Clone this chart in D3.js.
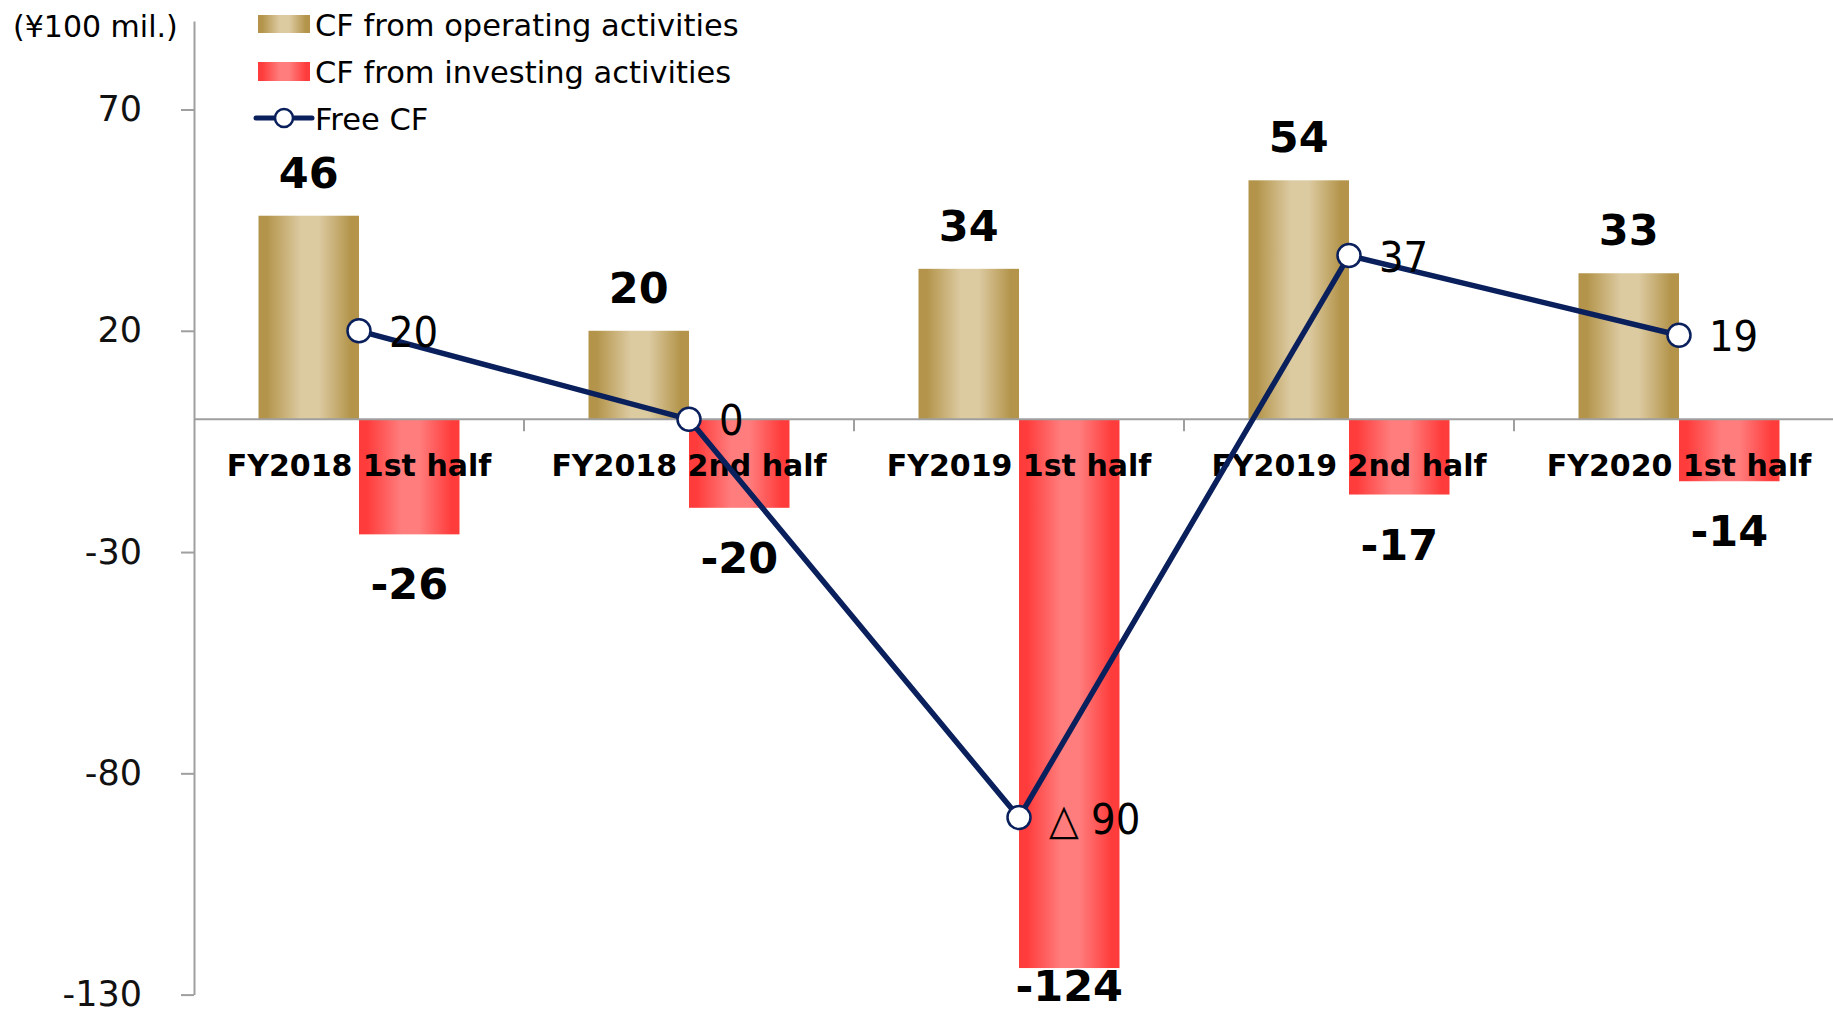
<!DOCTYPE html>
<html>
<head>
<meta charset="utf-8">
<script src="https://cdn.jsdelivr.net/npm/d3@7"></script>
<style>
  html, body { margin: 0; padding: 0; background: #fff; }
  svg { display: block; font-family: "DejaVu Sans", Verdana, sans-serif; }
</style>
</head>
<body>
<div id="chart"></div>
<script>
// --- data (¥100 mil.) ---
const categories = ["FY2018 1st half", "FY2018 2nd half", "FY2019 1st half", "FY2019 2nd half", "FY2020 1st half"];
const operatingCF = [46, 20, 34, 54, 33];
const investingCF = [-26, -20, -124, -17, -14];
const freeCF = [20, 0, -90, 37, 19];
const yTicks = [70, 20, -30, -80, -130];
const seriesNames = ["CF from operating activities", "CF from investing activities", "Free CF"];
const unitLabel = "(¥100 mil.)";

const W = 1833, H = 1009;
const axisX = 194, catW = 330;
const navy = "#0a205c", axisGray = "#9f9f9f";

const svg = d3.select("#chart").append("svg")
    .attr("width", W).attr("height", H);

// gradients for the bars
const defs = svg.append("defs");
function hGrad(id, dark, light) {
    const g = defs.append("linearGradient").attr("id", id)
        .attr("x1", "0%").attr("x2", "100%").attr("y1", "0%").attr("y2", "0%");
    [[0, dark], [0.08, dark], [0.42, light], [0.6, light], [0.92, dark], [1, dark]]
        .forEach(([o, c]) => g.append("stop").attr("offset", o).attr("stop-color", c));
}
hGrad("gOp", "#b3944a", "#dccaa1");
hGrad("gInv", "#ff3c3c", "#ff7d7d");

const y = d3.scaleLinear().domain([-130, 90]).range([994.6, 21]);
const x0 = d3.scaleBand().domain(categories).range([axisX, axisX + catW * categories.length]);
const x1 = d3.scaleBand().domain(["op", "inv"]).range([64.5, 265.5]);
const mid = c => x0(c) + x0.bandwidth() / 2;

// bars
const rows = categories.map((c, i) => ({ c, op: operatingCF[i], inv: investingCF[i], free: freeCF[i] }));

svg.append("g").selectAll("rect.op").data(rows).join("rect")
    .attr("x", d => x0(d.c) + x1("op")).attr("width", x1.bandwidth())
    .attr("y", d => y(Math.max(0, d.op))).attr("height", d => Math.abs(y(d.op) - y(0)))
    .attr("fill", "url(#gOp)");
svg.append("g").selectAll("rect.inv").data(rows).join("rect")
    .attr("x", d => x0(d.c) + x1("inv")).attr("width", x1.bandwidth())
    .attr("y", d => y(Math.max(0, d.inv))).attr("height", d => Math.abs(y(d.inv) - y(0)))
    .attr("fill", "url(#gInv)");

// y axis
const yAxis = svg.append("g").attr("transform", `translate(${axisX},0)`)
    .call(d3.axisLeft(y).tickValues(yTicks).tickFormat(d => String(d))
        .tickSize(13).tickSizeOuter(0).tickPadding(39));
yAxis.select(".domain").attr("stroke", axisGray).attr("stroke-width", 2);
yAxis.selectAll(".tick line").attr("stroke", axisGray).attr("stroke-width", 2);
yAxis.selectAll(".tick text").attr("font-size", 35).attr("fill", "#111")
    .attr("font-family", "DejaVu Sans, Verdana, sans-serif");

// zero line with category boundary ticks
const xAxis = svg.append("g").attr("transform", `translate(0,${y(0)})`);
xAxis.append("line").attr("x1", axisX).attr("x2", W).attr("stroke", axisGray).attr("stroke-width", 2);
xAxis.selectAll("line.b").data(categories.slice(1)).join("line")
    .attr("x1", d => x0(d)).attr("x2", d => x0(d)).attr("y1", 0).attr("y2", 12)
    .attr("stroke", axisGray).attr("stroke-width", 2);

// category labels
const catAxis = svg.append("g").attr("transform", `translate(0,${y(0)})`)
    .call(d3.axisBottom(x0).tickSize(0));
catAxis.select(".domain").remove();
catAxis.selectAll(".tick text")
    .attr("y", 57).attr("dy", 0)
    .attr("font-size", 30).attr("font-weight", "bold").attr("fill", "#000")
    .attr("font-family", "DejaVu Sans, Verdana, sans-serif");

// free CF line
const line = d3.line().x(d => mid(d.c)).y(d => y(d.free));
svg.append("path").datum(rows)
    .attr("d", line).attr("fill", "none").attr("stroke", navy).attr("stroke-width", 5.5)
    .attr("stroke-linejoin", "round");
svg.append("g").selectAll("circle").data(rows).join("circle")
    .attr("cx", d => mid(d.c)).attr("cy", d => y(d.free)).attr("r", 11.5)
    .attr("fill", "#fff").attr("stroke", navy).attr("stroke-width", 2.5);

// data labels
svg.append("g").selectAll("text").data(rows).join("text")
    .attr("x", d => x0(d.c) + x1("op") + x1.bandwidth() / 2)
    .attr("y", d => y(d.op) - 28)
    .attr("text-anchor", "middle").attr("font-size", 43).attr("font-weight", "bold")
    .text(d => d.op);
svg.append("g").selectAll("text").data(rows).join("text")
    .attr("x", d => x0(d.c) + x1("inv") + x1.bandwidth() / 2)
    .attr("y", d => Math.min(y(d.inv) + 65, 1001))
    .attr("text-anchor", "middle").attr("font-size", 43).attr("font-weight", "bold")
    .text(d => d.inv);
svg.append("g").selectAll("text").data(rows).join("text")
    .attr("x", d => mid(d.c) + 30)
    .attr("y", d => y(d.free) + 16)
    .attr("font-size", 43).style("font-stretch", "condensed")
    .attr("font-family", "DejaVu Sans Condensed, DejaVu Sans, sans-serif")
    .text(d => d.free < 0 ? "\u25B3 " + Math.abs(d.free) : d.free);

// unit label
svg.append("text").attr("x", 13).attr("y", 37).attr("font-size", 30).text(unitLabel);

// legend
const lg = svg.append("g");
lg.append("rect").attr("x", 258).attr("y", 15).attr("width", 52).attr("height", 18).attr("fill", "url(#gOp)");
lg.append("rect").attr("x", 258).attr("y", 62).attr("width", 52).attr("height", 19).attr("fill", "url(#gInv)");
lg.append("line").attr("x1", 256).attr("x2", 312).attr("y1", 118).attr("y2", 118)
    .attr("stroke", navy).attr("stroke-width", 5).attr("stroke-linecap", "round");
lg.append("circle").attr("cx", 284).attr("cy", 118).attr("r", 9)
    .attr("fill", "#fff").attr("stroke", navy).attr("stroke-width", 2.5);
lg.selectAll("text").data(seriesNames).join("text")
    .attr("x", 315).attr("y", (d, i) => 36 + i * 47)
    .attr("font-size", 30.5).text(d => d);
</script>
</body>
</html>
